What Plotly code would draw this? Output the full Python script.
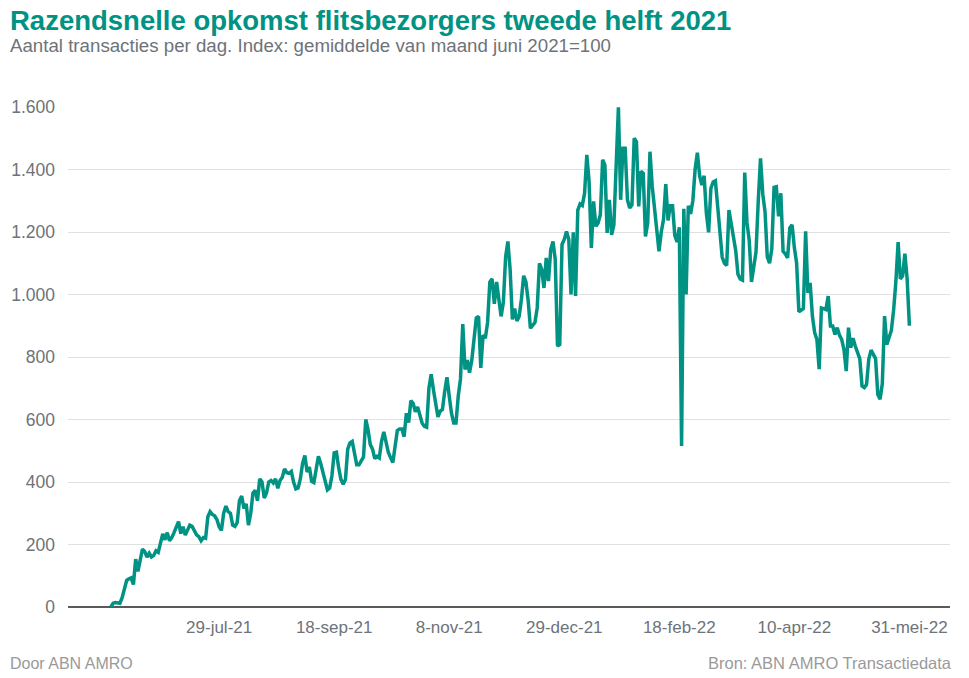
import pandas as pd
import plotly.graph_objects as go

start_date = "2021-06-11"
values = [
    0, 12, 14, 13, 12, 30, 58, 85, 90, 93,
    72, 153, 114, 150, 185, 178, 160, 172, 160, 165,
    180, 175, 209, 234, 215, 238, 212, 222, 238, 255,
    273, 235, 257, 230, 248, 262, 258, 245, 231, 225,
    212, 222, 220, 289, 305, 296, 292, 280, 257, 245,
    300, 323, 305, 300, 262, 258, 270, 340, 355, 315,
    330, 262, 300, 365, 373, 340, 410, 400, 349, 365,
    400, 405, 397, 410, 380, 405, 415, 442, 430, 428,
    434, 400, 378, 381, 410, 460, 485, 432, 448, 402,
    398, 440, 482, 460, 432, 400, 375, 381, 420, 493,
    495, 445, 408, 393, 408, 505, 525, 530, 485, 455,
    455, 466, 480, 600, 568, 520, 505, 475, 482, 477,
    530, 560, 525, 495, 478, 462, 514, 565, 570, 570,
    545, 620, 590, 660, 652, 625, 640, 615, 588, 578,
    575, 700, 745, 695, 650, 608, 627, 632, 690, 735,
    675, 620, 589, 589, 675, 730, 905, 760, 790, 750,
    790, 860, 925, 930, 765, 870, 860, 910, 1040, 1050,
    970, 1040, 990, 930, 975, 1120, 1170, 1080, 920, 955,
    915, 930, 985, 1060, 1040, 980, 892, 900, 910, 957,
    1100, 1080, 1021, 1117, 1043, 1144, 1170, 1112, 835, 840,
    1160, 1176, 1202, 1176, 1000, 1199, 995, 1270, 1290, 1285,
    1324, 1447, 1362, 1149, 1298, 1218, 1229, 1255, 1431, 1415,
    1197, 1303, 1191, 1223, 1410, 1599, 1303, 1468, 1468, 1303,
    1277, 1287, 1500, 1489, 1282, 1394, 1388, 1186, 1229, 1457,
    1346, 1271, 1197, 1138, 1200, 1240, 1353, 1237, 1284, 1284,
    1189, 1168, 1215, 515, 1274, 1000, 1284, 1258, 1300, 1400,
    1454, 1380, 1350, 1380, 1260, 1199, 1340, 1360, 1364, 1290,
    1194, 1120, 1100, 1093, 1270, 1230, 1192, 1141, 1065, 1050,
    1046, 1390, 1230, 1173, 1040, 1090, 1136, 1300, 1436, 1321,
    1265, 1120, 1100, 1146, 1343, 1345, 1250, 1324, 1138, 1130,
    1117, 1213, 1223, 1150, 1101, 945, 950, 955, 1202, 1005,
    1037, 931, 878, 856, 761, 957, 955, 952, 995, 899,
    899, 872, 894, 870, 856, 824, 755, 894, 830, 860,
    835, 818, 795, 707, 702, 712, 793, 822, 810, 795,
    680, 665, 715, 931, 840, 862, 885, 950, 1040, 1168,
    1050, 1060, 1131, 1050, 900,
]
dates = pd.date_range(start_date, periods=len(values), freq="D")

x_tick_dates = ["2021-07-29", "2021-09-18", "2021-11-08", "2021-12-29",
                "2022-02-18", "2022-04-10", "2022-05-31"]
x_tick_labels = ["29-jul-21", "18-sep-21", "8-nov-21", "29-dec-21",
                 "18-feb-22", "10-apr-22", "31-mei-22"]
y_tick_vals = [0, 200, 400, 600, 800, 1000, 1200, 1400, 1600]
y_tick_labels = ["0", "200", "400", "600", "800", "1.000", "1.200", "1.400", "1.600"]

title_text = "Razendsnelle opkomst flitsbezorgers tweede helft 2021"
subtitle_text = "Aantal transacties per dag. Index: gemiddelde van maand juni 2021=100"
left_note = "Door ABN AMRO"
right_note = "Bron: ABN AMRO Transactiedata"

TEAL = "#009282"
GRAY = "#6d737a"
FONT = "Liberation Sans, Arial, sans-serif"

fig = go.Figure()
fig.add_trace(go.Scatter(
    x=dates, y=values, mode="lines",
    line=dict(color=TEAL, width=3.5),
    cliponaxis=False, hoverinfo="x+y", showlegend=False,
))

fig.update_layout(
    width=969, height=678,
    margin=dict(l=68, r=19, t=107, b=71),
    paper_bgcolor="white", plot_bgcolor="white",
    font=dict(family=FONT, color=GRAY, size=18),
    xaxis=dict(
        type="date",
        range=["2021-05-23", "2022-06-18"],
        tickmode="array", tickvals=x_tick_dates, ticktext=x_tick_labels,
        showgrid=False, showline=False, zeroline=False,
        ticks="", ticklabelstandoff=8, automargin=False,
        tickfont=dict(size=17, color=GRAY, family=FONT),
    ),
    yaxis=dict(
        range=[0, 1600],
        tickmode="array", tickvals=y_tick_vals, ticktext=y_tick_labels,
        showgrid=True, gridcolor="#e0e0e0", gridwidth=1,
        zeroline=True, zerolinecolor="#5a5a5a", zerolinewidth=2,
        showline=False, ticks="", ticklabelstandoff=12, automargin=False,
        tickfont=dict(size=17.5, color=GRAY, family=FONT),
    ),
    annotations=[
        dict(text="<b>" + title_text + "</b>", xref="paper", yref="paper",
             x=-0.0675, y=1.174, xanchor="left", yanchor="middle", showarrow=False,
             font=dict(size=27.5, color=TEAL, family=FONT)),
        dict(text=subtitle_text, xref="paper", yref="paper",
             x=-0.0675, y=1.122, xanchor="left", yanchor="middle", showarrow=False,
             font=dict(size=18.7, color=GRAY, family=FONT)),
        dict(text=left_note, xref="paper", yref="paper",
             x=-0.0675, y=-0.112, xanchor="left", yanchor="middle", showarrow=False,
             font=dict(size=16, color="#9a9a9a", family=FONT)),
        dict(text=right_note, xref="paper", yref="paper",
             x=1.005, y=-0.112, xanchor="right", yanchor="middle", showarrow=False,
             font=dict(size=16.5, color="#9a9a9a", family=FONT)),
    ],
)

fig.write_html("out.html",
               config={"displayModeBar": False},
               post_script="document.body.style.margin='0';document.body.style.overflow='hidden';")
